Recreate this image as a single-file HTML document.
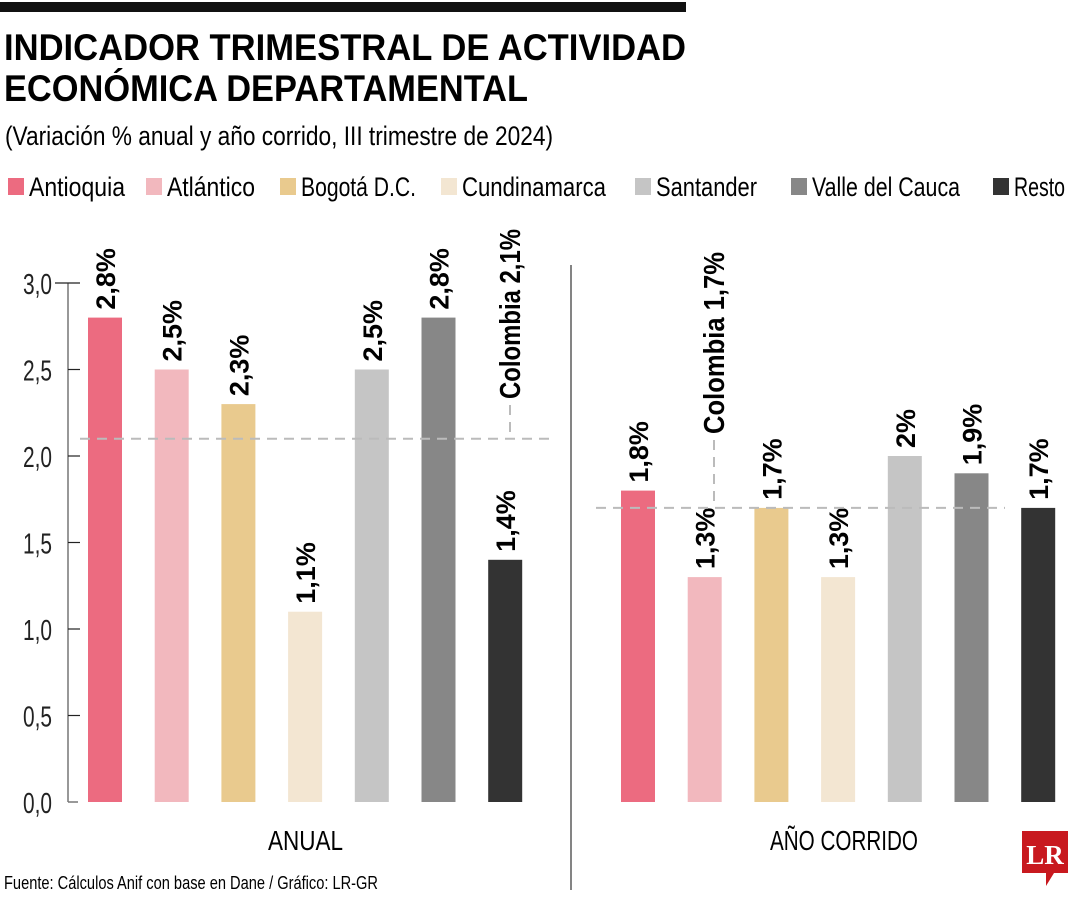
<!DOCTYPE html>
<html><head><meta charset="utf-8"><style>
body{margin:0;background:#fff;}
svg{display:block;font-family:"Liberation Sans Narrow","Liberation Sans",sans-serif;}
</style></head><body>
<svg id="chart" width="1080" height="900" viewBox="0 0 1080 900">
<rect x="0" y="2" width="686" height="10" fill="#111"/>
<text x="4" y="60" font-size="37" font-weight="bold" textLength="682" lengthAdjust="spacingAndGlyphs">INDICADOR TRIMESTRAL DE ACTIVIDAD</text>
<text x="4" y="101" font-size="37" font-weight="bold" textLength="524" lengthAdjust="spacingAndGlyphs">ECONÓMICA DEPARTAMENTAL</text>
<text x="5" y="145" font-size="27" textLength="548" lengthAdjust="spacingAndGlyphs">(Variación % anual y año corrido, III trimestre de 2024)</text>
<g id="legend"></g>
<g id="plot"></g>
<line x1="571" y1="265" x2="571" y2="890" stroke="#333" stroke-width="1.2"/>
<text x="268" y="850" font-size="28" textLength="75" lengthAdjust="spacingAndGlyphs">ANUAL</text>
<text x="770" y="850" font-size="28" textLength="148" lengthAdjust="spacingAndGlyphs">AÑO CORRIDO</text>
<text x="4" y="889" font-size="18" textLength="374" lengthAdjust="spacingAndGlyphs">Fuente: Cálculos Anif con base en Dane / Gráfico: LR-GR</text>
<g>
<path d="M1022 831 H1068 V873 H1054 L1046 886 V873 H1022 Z" fill="#c8191f"/>
<text x="1045" y="864" font-size="27" font-weight="bold" fill="#fff" text-anchor="middle" font-family="Liberation Serif,serif">LR</text>
</g>
</svg>
<script>
const categories=["Antioquia","Atlántico","Bogotá D.C.","Cundinamarca","Santander","Valle del Cauca","Resto"];
const colors=["#EC6B80","#F2B8BE","#E9CA8E","#F3E6D2","#C5C5C5","#878787","#333333"];
const anualValues=[2.8,2.5,2.3,1.1,2.5,2.8,1.4];
const anualLabels=["2,8%","2,5%","2,3%","1,1%","2,5%","2,8%","1,4%"];
const corridoValues=[1.8,1.3,1.7,1.3,2.0,1.9,1.7];
const corridoLabels=["1,8%","1,3%","1,7%","1,3%","2%","1,9%","1,7%"];
const colombiaAnual=2.1, colombiaCorrido=1.7;
const yTicks=[0,0.5,1,1.5,2,2.5,3];
const yTickLabels=["0,0","0,5","1,0","1,5","2,0","2,5","3,0"];
const legendX=[8,146,280,441,635,791,993];
const legendW=[96,88,115,144,101,148,51];

const NS="http://www.w3.org/2000/svg";
const plot=document.getElementById('plot');
const legend=document.getElementById('legend');
function y(v){return 802-v*173;}
function mk(tag,attrs,parent){const e=document.createElementNS(NS,tag);for(const k in attrs)e.setAttribute(k,attrs[k]);parent.appendChild(e);return e;}

categories.forEach((c,i)=>{
  const r=mk('rect',{x:legendX[i],y:178,width:16,height:17,fill:colors[i]},legend);
  
  
  const t=mk('text',{x:legendX[i]+21,y:196,'font-size':27,textLength:legendW[i],lengthAdjust:'spacingAndGlyphs'},legend);
  t.textContent=c;
  
  
});

const ax=mk('line',{x1:68,y1:283,x2:68,y2:802,stroke:'#777','stroke-width':1.5},plot);


mk('line',{x1:68,y1:802,x2:78,y2:802,stroke:'#777','stroke-width':1.5},plot);
yTicks.forEach((v,i)=>{
  const tk=mk('line',{x1:i==yTicks.length-1?55:68,y1:y(v),x2:i==0?68:80,y2:y(v),stroke:'#222','stroke-width':1.2},plot);
  
  
  const t=mk('text',{x:23,y:y(v)+11,'font-size':29,fill:'#222',textLength:29,lengthAdjust:'spacingAndGlyphs'},plot);
  t.textContent=yTickLabels[i];
  
  
});

function drawPanel(vals,labels,x0,name){
  vals.forEach((v,i)=>{
    const x=x0+i*66.7;
    const b=mk('rect',{x:x,y:y(v),width:34,height:802-y(v),fill:colors[i]},plot);
    
    
    const tx=x+27, ty=y(v)-8;
    const t=mk('text',{x:tx,y:ty,'font-size':27,'font-weight':'bold',transform:`rotate(-90 ${tx} ${ty})`},plot);
    t.textContent=labels[i];
    
    
  });
}
drawPanel(anualValues,anualLabels,88,'anual');
drawPanel(corridoValues,corridoLabels,621,'corrido');

function refLine(v,x1,x2,cx,topY,label,len,name){
  const l=mk('line',{x1:x1,y1:y(v),x2:x2,y2:y(v),stroke:'#bbb','stroke-width':2,'stroke-dasharray':'10 7'},plot);
  
  
  mk('line',{x1:cx,y1:topY,x2:cx,y2:y(v),stroke:'#bbb','stroke-width':2,'stroke-dasharray':'10 7'},plot);
  const ty=topY-6, tx=cx+10;
  const t=mk('text',{x:tx,y:ty,'font-size':29,'font-weight':'bold',textLength:len,lengthAdjust:'spacingAndGlyphs',transform:`rotate(-90 ${tx} ${ty})`},plot);
  t.textContent=label;
  
  
}
refLine(colombiaAnual,80,556,510,405,"Colombia 2,1%",170,'anual');
refLine(colombiaCorrido,596,1005,714,440,"Colombia 1,7%",182,'corrido');
</script>
</body></html>
